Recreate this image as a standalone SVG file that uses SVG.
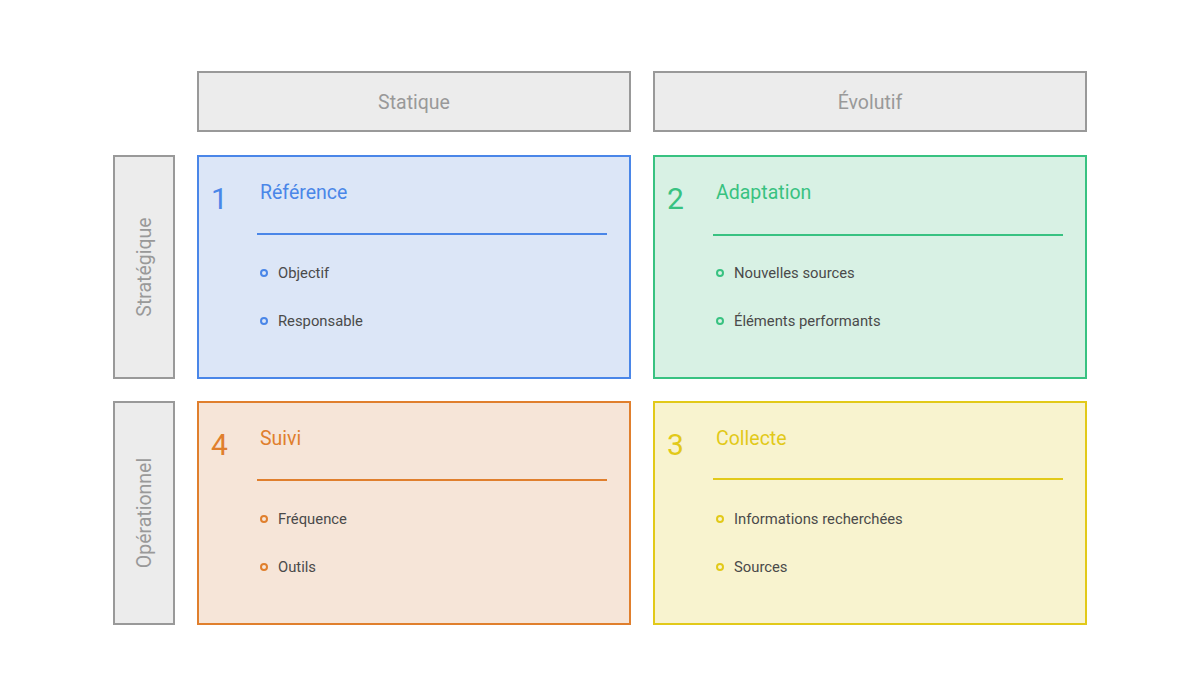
<svg xmlns="http://www.w3.org/2000/svg" width="1200" height="696" viewBox="0 0 1200 696">
<style>
text{font-family:Roboto,"Liberation Sans",sans-serif}
.hdr{fill:#ececec;stroke:#999;stroke-width:2}
.hdrt{fill:#999;font-size:19.5px;text-anchor:middle}
.num{font-size:30px}
.ttl{font-size:19.5px}
.item{font-size:14.8px;fill:#4a4a4a}
</style>
<rect width="1200" height="696" fill="#fff"/>
<g id="col-statique"><rect class="hdr" x="198" y="72" width="432" height="59"/><text class="hdrt" x="414" y="109">Statique</text></g>
<g id="col-evolutif"><rect class="hdr" x="654" y="72" width="432" height="59"/><text class="hdrt" x="870" y="109">Évolutif</text></g>
<g id="row-strategique"><rect class="hdr" x="114" y="156" width="60" height="222"/><text class="hdrt" transform="translate(151,267) rotate(-90)">Stratégique</text></g>
<g id="row-operationnel"><rect class="hdr" x="114" y="402" width="60" height="222"/><text class="hdrt" transform="translate(151,513) rotate(-90)">Opérationnel</text></g>

<g id="q1">
<rect x="198" y="156" width="432" height="222" fill="#dce6f7" stroke="#4a86e8" stroke-width="2"/>
<text class="num" x="211" y="209" fill="#4a86e8">1</text>
<text class="ttl" x="260" y="199" fill="#4a86e8">Référence</text>
<line x1="257" y1="234" x2="607" y2="234" stroke="#4a86e8" stroke-width="2"/>
<circle cx="264" cy="273" r="3" fill="none" stroke="#4a86e8" stroke-width="2"/>
<text class="item" x="278" y="278">Objectif</text>
<circle cx="264" cy="321" r="3" fill="none" stroke="#4a86e8" stroke-width="2"/>
<text class="item" x="278" y="326">Responsable</text>
</g>

<g id="q2">
<rect x="654" y="156" width="432" height="222" fill="#d8f1e4" stroke="#38c281" stroke-width="2"/>
<text class="num" x="667" y="209" fill="#38c281">2</text>
<text class="ttl" x="716" y="199" fill="#38c281">Adaptation</text>
<line x1="713" y1="235" x2="1063" y2="235" stroke="#38c281" stroke-width="2"/>
<circle cx="720" cy="273" r="3" fill="none" stroke="#38c281" stroke-width="2"/>
<text class="item" x="734" y="278">Nouvelles sources</text>
<circle cx="720" cy="321" r="3" fill="none" stroke="#38c281" stroke-width="2"/>
<text class="item" x="734" y="326">Éléments performants</text>
</g>

<g id="q4">
<rect x="198" y="402" width="432" height="222" fill="#f6e5d8" stroke="#e07f2d" stroke-width="2"/>
<text class="num" x="211" y="455" fill="#e07f2d">4</text>
<text class="ttl" x="260" y="445" fill="#e07f2d">Suivi</text>
<line x1="257" y1="480" x2="607" y2="480" stroke="#e07f2d" stroke-width="2"/>
<circle cx="264" cy="519" r="3" fill="none" stroke="#e07f2d" stroke-width="2"/>
<text class="item" x="278" y="524">Fréquence</text>
<circle cx="264" cy="567" r="3" fill="none" stroke="#e07f2d" stroke-width="2"/>
<text class="item" x="278" y="572">Outils</text>
</g>

<g id="q3">
<rect x="654" y="402" width="432" height="222" fill="#f8f3cf" stroke="#e2c919" stroke-width="2"/>
<text class="num" x="667" y="455" fill="#e2c919">3</text>
<text class="ttl" x="716" y="445" fill="#e2c919">Collecte</text>
<line x1="713" y1="479" x2="1063" y2="479" stroke="#e2c919" stroke-width="2"/>
<circle cx="720" cy="519" r="3" fill="none" stroke="#e2c919" stroke-width="2"/>
<text class="item" x="734" y="524">Informations recherchées</text>
<circle cx="720" cy="567" r="3" fill="none" stroke="#e2c919" stroke-width="2"/>
<text class="item" x="734" y="572">Sources</text>
</g>
<g id="connectors"/>
</svg>
